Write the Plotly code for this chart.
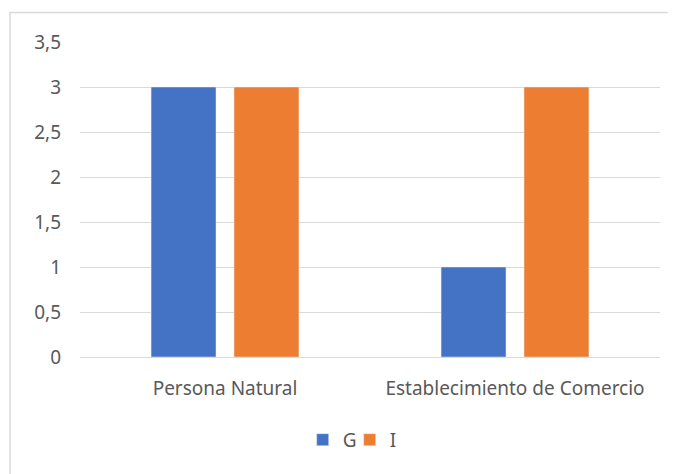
import plotly.graph_objects as go

categorias = ["Persona Natural", "Establecimiento de Comercio"]
serie_g = [3, 1]
serie_i = [3, 3]
ticks_y = [0, 0.5, 1, 1.5, 2, 2.5, 3, 3.5]

fig = go.Figure()
fig.add_trace(go.Bar(x=categorias, y=serie_g, name="G", marker_color="#4472C4"))
fig.add_trace(go.Bar(x=categorias, y=serie_i, name="I", marker_color="#ED7D31"))

fig.update_layout(
    width=676,
    height=474,
    margin=dict(l=72, r=24, t=34, b=125),
    paper_bgcolor="white",
    plot_bgcolor="white",
    separators=", ",
    font=dict(family="Noto Sans", size=19, color="#595959"),
    barmode="group",
    bargap=0.428,
    bargroupgap=0.217,
    showlegend=True,
    legend=dict(
        orientation="h",
        x=0.465,
        xanchor="center",
        y=-0.263,
        yanchor="middle",
        font=dict(size=19),
        itemwidth=30,
        entrywidth=2,
        entrywidthmode="pixels",
    ),
    shapes=[
        dict(
            type="rect",
            xref="paper",
            yref="paper",
            x0=-0.1207,
            x1=1.3,
            y0=-0.6,
            y1=1.0937,
            line=dict(color="#D9D9D9", width=1.5),
        )
    ],
)
fig.update_yaxes(
    range=[0, 3.5],
    tickvals=ticks_y,
    showgrid=True,
    gridcolor="#D9D9D9",
    gridwidth=1,
    zeroline=False,
    showline=False,
    ticklabelstandoff=18,
)
fig.update_xaxes(
    showline=True,
    linecolor="#D9D9D9",
    linewidth=1,
    ticks="",
    ticklabelstandoff=14,
)

fig.write_html("out.html")
